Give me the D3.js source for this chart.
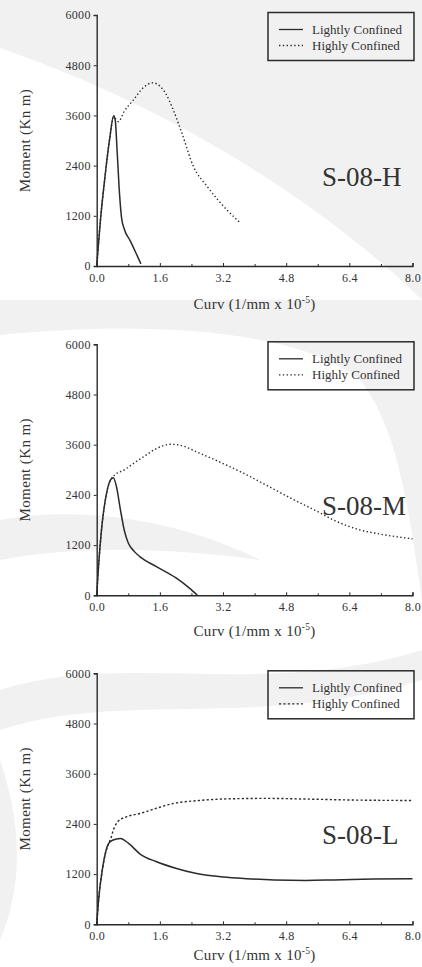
<!DOCTYPE html>
<html>
<head>
<meta charset="utf-8">
<script src="https://cdn.jsdelivr.net/npm/d3@7"></script>
<style>
  html, body { margin: 0; padding: 0; background: #ffffff; }
  svg { display: block; }
  text { font-family: "Liberation Serif", "Times New Roman", serif; fill: #333; }
</style>
</head>
<body>
<svg id="chart" width="422" height="967"></svg>
<script>
// Moment-curvature curves for three S-08 column sections
const curvTicks = [0, 1.6, 3.2, 4.8, 6.4, 8.0];
const curvMinorTicks = [0.8, 2.4, 4.0, 5.6, 7.2];
const momentTicks = [0, 1200, 2400, 3600, 4800, 6000];
const seriesNames = ["Lightly Confined", "Highly Confined"];
const panelLabels = ["S-08-H", "S-08-M", "S-08-L"];

// [curvature (1/mm x 10^-5), moment (kN m)]
const hLight = [[0,0],[0.03,350],[0.1,1150],[0.2,2050],[0.33,3050],[0.43,3590],[0.47,3480],[0.52,2700],[0.58,1700],[0.63,1150],[0.7,880],[0.85,600],[1.0,300],[1.12,50]];
const hHigh  = [[0,0],[0.03,350],[0.1,1150],[0.2,2050],[0.33,3050],[0.43,3560],[0.55,3450],[0.7,3700],[0.93,3970],[1.2,4280],[1.42,4380],[1.6,4300],[1.75,4120],[1.94,3730],[2.16,3170],[2.45,2380],[2.8,1900],[3.3,1340],[3.64,1030]];
const mLight = [[0,0],[0.04,600],[0.13,1640],[0.25,2440],[0.35,2760],[0.42,2810],[0.5,2600],[0.6,2050],[0.7,1550],[0.8,1250],[0.95,1050],[1.1,920],[1.5,690],[2.0,420],[2.35,170],[2.55,0]];
const mHigh  = [[0,0],[0.04,600],[0.13,1640],[0.25,2440],[0.38,2800],[0.46,2880],[0.7,3000],[0.93,3150],[1.2,3320],[1.5,3500],[1.86,3610],[2.1,3590],[2.6,3400],[3.2,3150],[3.8,2880],[4.4,2580],[5.0,2280],[5.6,2000],[6.0,1800],[6.6,1580],[7.2,1460],[8.0,1350]];
const lLight = [[0,0],[0.04,500],[0.15,1350],[0.3,1930],[0.4,2010],[0.6,2050],[0.8,1940],[1.1,1680],[1.5,1500],[2.0,1340],[2.5,1220],[3.2,1130],[3.8,1090],[4.5,1060],[5.3,1050],[6.0,1060],[7.0,1080],[8.0,1090]];
const lHigh  = [[0,0],[0.04,500],[0.15,1350],[0.3,1930],[0.36,2060],[0.42,2250],[0.55,2470],[0.75,2570],[1.1,2650],[1.5,2770],[1.9,2880],[2.6,2960],[3.4,3000],[4.3,3010],[5.5,2990],[6.5,2970],[8.0,2960]];

const panels = [
  { label: panelLabels[0], light: hLight, high: hHigh, top: 15,    titleDy: 43, dash: "1.4,2.4" },
  { label: panelLabels[1], light: mLight, high: mHigh, top: 344.3, titleDy: 41, dash: "1.4,2.4" },
  { label: panelLabels[2], light: lLight, high: lHigh, top: 673.3, titleDy: 36, dash: "2.2,2.2" }
];

const svg = d3.select("#chart");
const left = 96.7, right = 412.5, plotH = 251;
const ink = "#2b2b2b";

// faint page watermark behind the plots
const wm = svg.append("g").attr("fill", "#f1f1f1").attr("stroke", "none");
wm.append("path").attr("d", "M0,0 L422,0 L422,300 C330,210 180,110 0,48 Z");
wm.append("path").attr("d", "M0,300 L422,300 L422,600 C410,520 400,430 360,380 C300,330 150,320 0,335 Z");
wm.append("path").attr("d", "M0,520 C80,505 180,520 260,560 C170,548 80,545 0,560 Z");
wm.append("path").attr("d", "M0,690 C120,650 260,700 422,650 L422,680 C260,730 120,690 0,730 Z");
wm.append("path").attr("d", "M0,760 C20,820 25,880 0,940 Z");

const x = d3.scaleLinear().domain([0, 8]).range([left, right]);

panels.forEach(p => {
  const y = d3.scaleLinear().domain([0, 6000]).range([p.top + plotH, p.top]);
  const g = svg.append("g");

  // y axis with outward ticks
  const ya = g.append("g").attr("transform", `translate(${left},0)`)
    .call(d3.axisLeft(y).tickValues(momentTicks).tickSize(3).tickPadding(3).tickFormat(d3.format("d")));
  // x axis with inward ticks
  const xa = g.append("g").attr("transform", `translate(0,${p.top + plotH})`)
    .call(d3.axisBottom(x).tickValues(curvTicks).tickSize(-3).tickPadding(7).tickFormat(d3.format(".1f")));
  g.append("g").attr("transform", `translate(0,${p.top + plotH})`)
    .call(d3.axisBottom(x).tickValues(curvMinorTicks).tickSize(-2).tickFormat(""))
    .call(a => a.select(".domain").remove());

  [ya, xa].forEach(a => {
    a.select(".domain").attr("stroke", ink).attr("stroke-width", 1.4);
    a.selectAll(".tick text").attr("fill", "#333").style("font-size", "12px")
      .style("letter-spacing", "0.3px")
      .style("font-family", "'Liberation Serif', serif");
  });
  g.selectAll(".tick line").attr("stroke", ink).attr("stroke-width", 1);

  // axis titles
  const xt = g.append("text")
    .attr("x", (left + right) / 2).attr("y", p.top + plotH + p.titleDy)
    .attr("text-anchor", "middle").style("font-size", "15px").style("letter-spacing", "0.3px");
  xt.append("tspan").text("Curv (1/mm x 10");
  xt.append("tspan").attr("dy", -6).style("font-size", "9.5px").text("-5");
  xt.append("tspan").attr("dy", 6).text(")");

  g.append("text")
    .attr("transform", `translate(30,${p.top + plotH / 2}) rotate(-90)`)
    .attr("text-anchor", "middle").style("font-size", "15px").style("letter-spacing", "0.4px")
    .text("Moment (Kn m)");

  // curves
  const line = d3.line().x(d => x(d[0])).y(d => y(d[1])).curve(d3.curveMonotoneX);
  g.append("path").datum(p.high).attr("d", line)
    .attr("fill", "none").attr("stroke", ink).attr("stroke-width", 1.4)
    .attr("stroke-dasharray", p.dash);
  g.append("path").datum(p.light).attr("d", line)
    .attr("fill", "none").attr("stroke", ink).attr("stroke-width", 1.5);

  // legend
  const lg = g.append("g").attr("transform", `translate(268,${p.top - 2.5})`);
  lg.append("rect").attr("width", 146).attr("height", 48)
    .attr("fill", "none").attr("stroke", ink).attr("stroke-width", 1.5);
  seriesNames.forEach((name, i) => {
    const yy = 17 + i * 16;
    lg.append("line").attr("x1", 11).attr("x2", 35).attr("y1", yy).attr("y2", yy)
      .attr("stroke", ink).attr("stroke-width", 1.3)
      .attr("stroke-dasharray", i === 1 ? p.dash : null);
    lg.append("text").attr("x", 44).attr("y", yy + 4).style("font-size", "13px").text(name);
  });

  // section label
  g.append("text").attr("x", 322).attr("y", p.top + 171)
    .style("font-size", "27px").attr("fill", "#2b2b2b").text(p.label);
});
</script>
</body>
</html>
